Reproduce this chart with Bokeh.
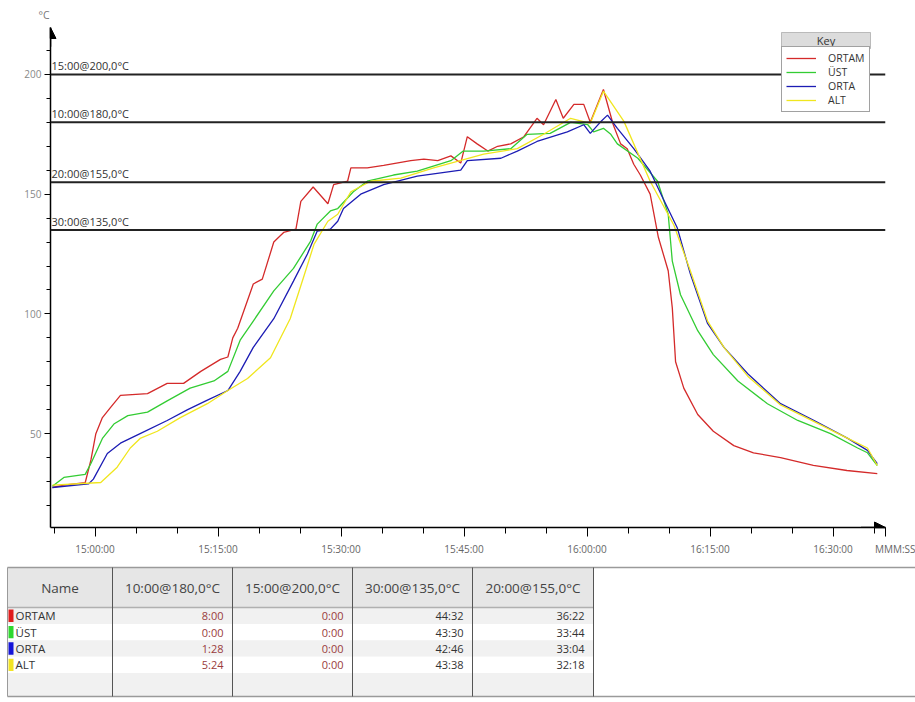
from bokeh.plotting import figure
from bokeh.models import (Range1d, FixedTicker, Span, Legend, LegendItem,
                          Arrow, NormalHead, BoxAnnotation, Label)
from bokeh.core.properties import value
from bokeh.embed import file_html
from bokeh.resources import INLINE

# ---------------- data (time = minutes after 15:00:00, value = °C) ----------------
ortam_t = [-5.2, -3.8, -1.2, -0.5, 0.1, 0.9, 1.9, 3.1, 6.4, 8.8, 10.8, 12.9, 15.3, 16.2, 16.8,
           17.4, 19.3, 20.4, 21.8, 23.0, 24.5, 25.1, 26.6, 28.4, 29.1, 30.8, 31.2, 33.2, 35.2, 38.5,
           40.1, 41.8, 43.4, 44.6, 45.4, 46.6, 47.9, 49.1, 50.7, 52.3, 53.9, 54.7, 56.2, 57.1, 58.4,
           59.6, 60.4, 62.0, 63.2, 64.1, 64.9, 65.7, 66.5, 67.7, 68.7, 69.9, 70.4, 70.8, 71.8, 73.5,
           75.4, 77.9, 80.3, 83.6, 87.6, 91.7, 95.4]
ortam_v = [27.5, 28.5, 29.5, 39, 50, 56.7, 61, 66, 66.7, 71, 71, 76, 81, 82, 90,
           94, 112.5, 114.5, 130, 134, 135.4, 147, 153, 146, 154, 155.4, 161, 161, 162, 164,
           164.6, 164, 166, 163, 174, 171, 168, 170, 171, 174, 181.7, 179, 189.5, 181.7, 187.5,
           187.5, 180, 193.7, 179, 171, 169, 162.5, 158, 150, 132, 118, 102.5, 80, 69, 58,
           51, 45, 42, 40, 36.7, 34.6, 33.3]

ust_t = [-5.2, -3.8, -1.2, -0.5, 0.9, 2.3, 4.0, 6.4, 8.8, 11.6, 14.5, 16.2, 17.7, 19.3, 21.8,
         24.2, 26.3, 27.1, 28.7, 29.6, 31.5, 33.2, 36.4, 39.3, 43.4, 44.9, 47.4, 50.7, 52.7, 55.5,
         58.0, 60.1, 60.8, 62.0, 62.9, 63.7, 66.2, 68.6, 69.9, 70.4, 71.4, 73.5, 75.4, 78.4, 82.0,
         85.7, 89.7, 93.0, 94.2, 95.4]
ust_v = [28, 31.7, 33, 37.5, 48, 54, 57.5, 59, 63.7, 69, 72, 76, 89, 97, 109.6,
         119, 130.4, 137.5, 143, 144, 151, 155.4, 158, 159.6, 164, 168, 168, 169, 175, 175.4,
         180, 179, 176, 177.5, 175, 171, 165, 155.4, 141.6, 122, 108, 93, 83, 72, 62.5,
         55.5, 50, 44, 42, 36.7]

orta_t = [-5.2, -0.8, -0.2, 1.5, 3.1, 5.5, 8.8, 11.3, 13.7, 16.2, 17.7, 19.3, 21.8, 24.2, 25.9,
          27.1, 28.7, 29.6, 30.3, 32.4, 35.2, 39.3, 44.6, 45.4, 49.5, 51.5, 53.9, 57.6, 59.6, 60.4,
          61.6, 62.5, 63.7, 65.7, 67.7, 69.3, 71.0, 72.6, 74.7, 76.7, 79.6, 83.6, 87.7, 91.8, 94.2,
          95.4]
orta_v = [27.5, 29, 31, 41.7, 46, 50, 55.5, 60, 64, 68, 76, 86, 98, 113.7, 125,
          134.6, 135.4, 138.7, 144, 150, 154, 157.5, 160, 164, 165, 168, 172, 176, 179, 175.4,
          180, 183, 177.5, 169, 159.6, 148, 136, 116.7, 96, 86, 75, 62.5, 55.5, 48, 43,
          37.5]

alt_t = [-5.2, 0.7, 2.7, 4.3, 5.5, 7.6, 10.4, 13.7, 16.2, 18.6, 21.4, 23.8, 25.4, 26.7, 28.4,
         29.6, 31.2, 33.6, 37.3, 41.3, 47.4, 51.5, 54.7, 58.0, 60.4, 62.0, 64.5, 67.7, 70.6, 72.6,
         74.7, 76.7, 79.6, 83.6, 87.7, 91.8, 94.2, 95.4]
alt_v = [28.5, 29.6, 36, 44, 48, 51, 56.7, 62.5, 68, 73, 81.7, 98, 115, 129, 138.7,
         141.6, 151, 155.4, 156.7, 161, 166.7, 169, 175, 181.7, 179.6, 193, 180.4, 155.4, 137, 118,
         97, 86, 74, 62, 55, 48, 44, 36.7]

series_names = ["ORTAM", "ÜST", "ORTA", "ALT"]
series_colors = ["#d42a2a", "#33cc33", "#1c1cb4", "#f0e61e"]
swatch_colors = ["#e01c1c", "#2ed82e", "#1414d8", "#f2e424"]

thr_values = [200, 180, 155, 135]
thr_labels = ["15:00@200,0°C", "10:00@180,0°C", "20:00@155,0°C", "30:00@135,0°C"]

x_tick_minutes = [0, 15, 30, 45, 60, 75, 90]
x_tick_labels = ["15:00:00", "15:15:00", "15:30:00", "15:45:00", "16:00:00", "16:15:00", "16:30:00"]
x_unit_label = "MMM:SS"
y_unit_label = "°C"
y_ticks = [50, 100, 150, 200]

table_header = ["Name", "10:00@180,0°C", "15:00@200,0°C", "30:00@135,0°C", "20:00@155,0°C"]
col_180 = ["8:00", "0:00", "1:28", "5:24"]
col_200 = ["0:00", "0:00", "0:00", "0:00"]
col_135 = ["44:32", "43:30", "42:46", "43:38"]
col_155 = ["36:22", "33:44", "33:04", "32:18"]

FONT = "Open Sans"

# ---------------- main chart ----------------
x0, x1 = -5.43, 96.4
y0, y1 = 10.8, 219.6
p = figure(width=915, height=560, x_range=Range1d(x0, x1), y_range=Range1d(y0, y1),
           output_backend="svg", toolbar_location=None,
           min_border_left=50, min_border_right=30, min_border_top=26, min_border_bottom=33)
p.grid.visible = False
p.outline_line_color = None
p.background_fill_color = "white"

# unit label of the y axis, shown top-left
p.title.text = y_unit_label
p.title.align = "left"
p.title.offset = -12
p.title.standoff = 11
p.title.text_font = FONT
p.title.text_font_size = "10.5px"
p.title.text_font_style = "normal"
p.title.text_color = "#777777"

for ax in (p.xaxis[0], p.yaxis[0]):
    ax.axis_line_color = "black"
    ax.axis_line_width = 1.5
    ax.major_tick_line_color = "black"
    ax.minor_tick_line_color = "black"
    ax.major_tick_in = 0
    ax.minor_tick_in = 0
    ax.major_label_text_font = FONT
    ax.major_label_text_font_size = "10px"

# x ticks; the unit label "MMM:SS" sits at the arrow tip, padded with no-break spaces
unit_tick = x1 - 0.05
p.xaxis.ticker = FixedTicker(ticks=x_tick_minutes + [unit_tick], minor_ticks=list(range(-5, 100, 5)))
overrides = {m: s for m, s in zip(x_tick_minutes, x_tick_labels)}
overrides[unit_tick] = "\u00a0" * 10 + x_unit_label
p.xaxis.major_label_overrides = overrides
p.xaxis.major_tick_out = 9
p.xaxis.minor_tick_out = 6
p.xaxis.major_label_text_color = "#666666"
p.xaxis.major_label_standoff = 5

p.yaxis.ticker = FixedTicker(ticks=y_ticks, minor_ticks=list(range(20, 220, 10)))
p.yaxis.major_tick_out = 6
p.yaxis.minor_tick_out = 4
p.yaxis.major_label_text_color = "#888888"
p.yaxis.major_label_standoff = 3

# threshold lines and their labels
for v in thr_values:
    p.add_layout(Span(location=v, dimension="width", line_color="#222222", line_width=2))
p.text(x=[x0] * len(thr_values), y=thr_values, text=thr_labels, x_offset=1, y_offset=-1,
       text_baseline="bottom", text_align="left", text_font=value(FONT),
       text_font_size="11px", text_color="#333333")

# series
series = [(ortam_t, ortam_v), (ust_t, ust_v), (orta_t, orta_v), (alt_t, alt_v)]
renderers = []
for (tt, vv), c in zip(series, series_colors):
    renderers.append(p.line(tt, vv, line_color=c, line_width=1.3))

# axis arrows
p.add_layout(Arrow(end=NormalHead(size=11, fill_color="black", line_color="black"),
                   x_start=x0, y_start=y1 - 8, x_end=x0, y_end=y1,
                   line_color="black", line_width=1.5))
p.add_layout(Arrow(end=NormalHead(size=11, fill_color="black", line_color="black"),
                   x_start=x1 - 3, y_start=y0, x_end=x1, y_end=y0,
                   line_color="black", line_width=1.5))

# legend ("Key")
legend = Legend(items=[LegendItem(label=n, renderers=[r]) for n, r in zip(series_names, renderers)],
                location=(731, 415), margin=0, padding=4, spacing=0,
                glyph_width=30, glyph_height=14, label_height=14, label_standoff=12,
                label_text_font=FONT, label_text_font_size="10.5px", label_text_color="#333333",
                border_line_color="#444444", border_line_width=1,
                background_fill_color="white", background_fill_alpha=1)
p.add_layout(legend)
p.add_layout(BoxAnnotation(left=731, right=820, bottom=479, top=495,
                           left_units="screen", right_units="screen",
                           bottom_units="screen", top_units="screen",
                           fill_color="#dcdcdc", fill_alpha=1,
                           line_color="#444444", line_width=1, level="overlay"))
p.add_layout(Label(x=775.5, y=487, x_units="screen", y_units="screen", text="Key",
                   text_align="center", text_baseline="middle", text_font=FONT,
                   text_font_size="11px", text_color="#333333", level="overlay"))

# ---------------- table ----------------
t = figure(width=915, height=142, x_range=Range1d(0, 915), y_range=Range1d(702, 560),
           output_backend="svg", toolbar_location=None, min_border=0)
t.axis.visible = False
t.grid.visible = False
t.outline_line_color = None

col_edges = [7, 112, 232, 352, 472, 593]
head_top, head_bot = 567, 607
row_h = 16.4
n_rows = len(series_names) + 1
row_tops = [head_bot + i * row_h for i in range(n_rows)]
table_bottom = 696

t.quad(left=[col_edges[0]], right=[col_edges[-1]], top=[head_top], bottom=[head_bot],
       fill_color="#e6e6e6", line_color=None)
t.quad(left=[col_edges[0]] * n_rows, right=[col_edges[-1]] * n_rows,
       top=row_tops, bottom=[r + row_h for r in row_tops[:-1]] + [table_bottom],
       fill_color=["#f1f1f1" if i % 2 == 0 else "white" for i in range(n_rows)], line_color=None)
t.segment(x0=[col_edges[0], col_edges[0], col_edges[0]], x1=[915, col_edges[-1], 915],
          y0=[head_top, head_bot, table_bottom], y1=[head_top, head_bot, table_bottom],
          line_color=["#9a9a9a", "#b0b0b0", "#9a9a9a"], line_width=1.5)
t.segment(x0=col_edges[1:], x1=col_edges[1:], y0=[head_top] * 5, y1=[table_bottom] * 5,
          line_color="#555555", line_width=1)
t.segment(x0=[col_edges[0]], x1=[col_edges[0]], y0=[head_top], y1=[table_bottom],
          line_color="#9a9a9a", line_width=1)

t.text(x=[(a + b) / 2 for a, b in zip(col_edges[:-1], col_edges[1:])], y=[(head_top + head_bot) / 2] * 5,
       text=table_header, text_align="center", text_baseline="middle",
       text_font=value(FONT), text_font_size="13.5px", text_color="#444444")

row_mid = [r + row_h / 2 for r in row_tops[:len(series_names)]]
t.quad(left=[col_edges[0] + 1] * 4, right=[col_edges[0] + 6] * 4,
       top=[r + 2 for r in row_tops[:4]], bottom=[r + row_h - 2 for r in row_tops[:4]],
       fill_color=swatch_colors, line_color=None)
t.text(x=[col_edges[0] + 8] * 4, y=row_mid, text=series_names, text_align="left",
       text_baseline="middle", text_font=value(FONT), text_font_size="11.5px",
       text_color="#333333")

for k, (vals, colr) in enumerate([(col_180, "#9a3c3c"), (col_200, "#9a3c3c"),
                                   (col_135, "#333333"), (col_155, "#333333")]):
    t.text(x=[col_edges[k + 2] - 9] * 4, y=row_mid, text=vals, text_align="right",
           text_baseline="middle", text_font=value(FONT), text_font_size="11px",
           text_color=colr)

open("out.html", "w").write(file_html([p, t], INLINE))
